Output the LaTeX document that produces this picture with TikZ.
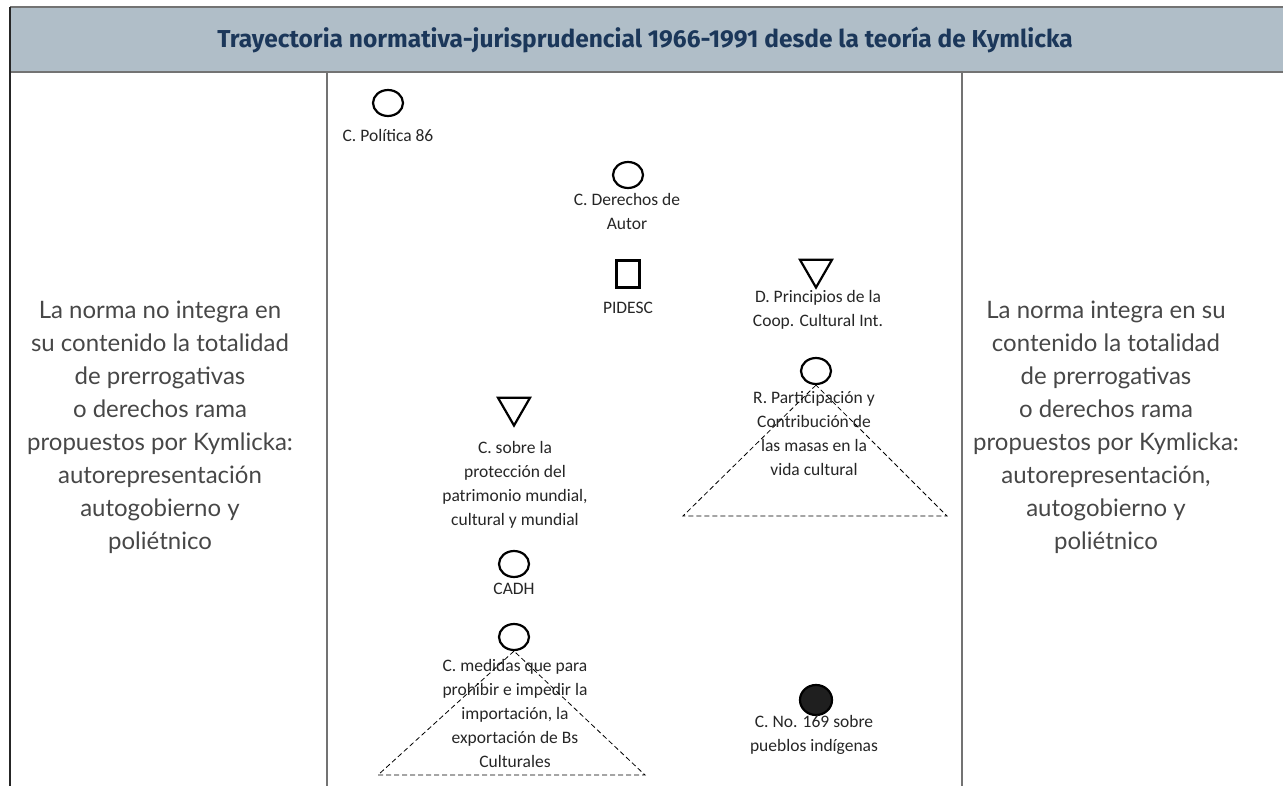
\documentclass[tikz,border=0pt]{standalone}
\usepackage{fontspec}
\setmainfont{Carlito}
\newfontfamily\sidefont{Lato}
\newfontfamily\headfont{Fira Sans}
\usetikzlibrary{shapes.geometric,positioning}
\definecolor{headblue}{RGB}{176,190,200}
\definecolor{headtext}{RGB}{27,55,90}
\definecolor{rulegray}{RGB}{115,115,115}

\begin{document}
\begin{tikzpicture}[x=1pt,y=-1pt,
	circ/.style={ellipse, draw, line width=2.2pt, minimum width=30pt, minimum height=26pt, inner sep=0pt},
	dot/.style={circ, fill=black!88, minimum width=32pt, minimum height=30pt},
	tri/.style={regular polygon, regular polygon sides=3, shape border rotate=180, draw, line width=2.2pt, minimum size=37pt, inner sep=0pt},
	sq/.style={rectangle, draw, line width=2.2pt, minimum width=23pt, minimum height=27pt, inner sep=0pt},
	lbl/.style={align=center, font=\fontsize{17.5}{24}\selectfont, text=black!85, inner sep=0pt},
	side/.style={align=center, font=\sidefont\fontsize{24}{33}\selectfont, text=black!72, inner sep=0pt},
	zone/.style={line width=0.8pt, dash pattern=on 5pt off 3pt}]
	\useasboundingbox (0,0) rectangle (1283,786);
	
	% Table frame and header
	\fill[headblue] (10,7) rectangle (1283,72);
	\draw[rulegray, line width=1.5pt] (10,7) -- (1283,7);
	\draw[rulegray, line width=1.5pt] (10,72) -- (1283,72);
	\draw[black!85, line width=1.2pt] (10,7) -- (10,786);
	\draw[rulegray, line width=1.2pt] (327,72) -- (327,786);
	\draw[rulegray, line width=1.2pt] (962,72) -- (962,786);
	\node[font=\headfont\bfseries\fontsize{24.5}{26}\selectfont, text=headtext] (title) at (645,40) {Trayectoria normativa-jurisprudencial 1966-1991 desde la teoría de Kymlicka};
	
	% Side columns
	\node[side] (left) at (160,427) {La norma no integra en\\su contenido la totalidad\\de prerrogativas\\o derechos rama\\propuestos por Kymlicka:\\autorepresentación\\autogobierno y\\poliétnico};
	\node[side] (right) at (1106,427) {La norma integra en su\\contenido la totalidad\\de prerrogativas\\o derechos rama\\propuestos por Kymlicka:\\autorepresentación,\\autogobierno y\\poliétnico};
	
	% Norms
	\node[circ] (cp86) at (388,103) {};
	\node[lbl] (cp86lbl) at (388,135) {C. Política 86};
	
	\node[circ] (autor) at (628,175) {};
	\node[lbl] (autorlbl) at (627,211) {C. Derechos de\\Autor};
	
	\node[sq] (pidesc) at (628,274) {};
	\node[lbl] (pidesclbl) at (628,308) {PIDESC};
	
	\node[tri] (coop) at (816,269) {};
	\node[lbl] (cooplbl) at (818,310) {D. Principios de la\\Coop. Cultural Int.};
	
	\node[circ] (masas) at (816,371) {};
	\node[lbl] (masaslbl) at (814,434) {R. Participación y\\Contribución de\\las masas en la\\vida cultural};
	
	\node[tri] (patri) at (514,407) {};
	\node[lbl] (patrilbl) at (515,485) {C. sobre la\\protección del\\patrimonio mundial,\\cultural y mundial};
	
	\node[circ] (cadh) at (514,564) {};
	\node[lbl] (cadhlbl) at (514,589) {CADH};
	
	\node[circ] (bienes) at (514,637) {};
	\node[lbl] (bieneslbl) at (515,713) {C. medidas que para\\prohibir e impedir la\\importación, la\\exportación de Bs\\Culturales};
	
	\node[dot] (oit) at (816,700) {};
	\node[lbl] (oitlbl) at (814,735) {C. No. 169 sobre\\pueblos indígenas};
	
	% Dashed zones
	\coordinate (masasL) at (683,516);
	\coordinate (masasR) at (947,516);
	\draw[zone] (masas.south) -- (masasL) -- (masasR) -- cycle;
	\coordinate (bienesL) at (378,775);
	\coordinate (bienesR) at (645,775);
	\draw[zone] (bienes.south) -- (bienesL) -- (bienesR) -- cycle;
\end{tikzpicture}
\end{document}
